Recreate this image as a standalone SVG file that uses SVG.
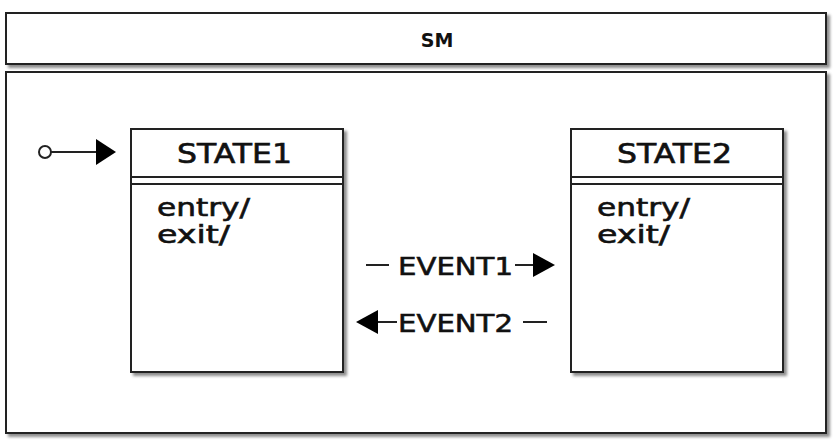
<svg xmlns="http://www.w3.org/2000/svg" width="840" height="444" viewBox="0 0 840 444">
<defs>
<filter id="sh" x="-5%" y="-5%" width="110%" height="115%">
<feDropShadow dx="3" dy="3" stdDeviation="1.8" flood-color="#000" flood-opacity="0.45"/>
</filter>
</defs>
<style>
.box{fill:#fff;stroke:#222;stroke-width:2}
.ln{stroke:#222;stroke-width:2;fill:none}
.head{fill:#000}
.t{font-family:"DejaVu Sans",sans-serif;fill:#111;stroke:#111;stroke-width:0.6}
.title{font-size:26px}
.body{font-size:24px}
.ev{font-size:25px}
</style>
<rect width="840" height="444" fill="#fff"/>
<g id="sm-header">
<rect class="box" x="6" y="13" width="820" height="51" filter="url(#sh)"/>
<text x="437" y="47" font-family="DejaVu Sans, sans-serif" font-size="19" font-weight="bold" fill="#111" text-anchor="middle">SM</text>
</g>
<g id="sm">
<rect class="box" x="6" y="72" width="820" height="361" filter="url(#sh)"/>
</g>
<g id="initial">
<circle cx="45" cy="152" r="6" fill="#fff" stroke="#222" stroke-width="2"/>
</g>
<g id="state1">
<rect class="box" x="131" y="129" width="212" height="243" filter="url(#sh)"/>
<line class="ln" x1="131" y1="177" x2="343" y2="177"/>
<line class="ln" x1="131" y1="184" x2="343" y2="184"/>
<text class="t title" x="177" y="162.5" textLength="115" lengthAdjust="spacingAndGlyphs">STATE1</text>
<text class="t body" x="157" y="216" textLength="93" lengthAdjust="spacingAndGlyphs">entry/</text>
<text class="t body" x="157" y="243" textLength="73" lengthAdjust="spacingAndGlyphs">exit/</text>
</g>
<g id="state2">
<rect class="box" x="571" y="129" width="212" height="243" filter="url(#sh)"/>
<line class="ln" x1="571" y1="177" x2="783" y2="177"/>
<line class="ln" x1="571" y1="184" x2="783" y2="184"/>
<text class="t title" x="617" y="162.5" textLength="115" lengthAdjust="spacingAndGlyphs">STATE2</text>
<text class="t body" x="597" y="216" textLength="93" lengthAdjust="spacingAndGlyphs">entry/</text>
<text class="t body" x="597" y="243" textLength="73" lengthAdjust="spacingAndGlyphs">exit/</text>
</g>
<g id="connectors">
<g id="init-to-state1">
<line class="ln" x1="51" y1="152" x2="98" y2="152"/>
<polygon class="head" points="96,139 116,152 96,165"/>
</g>
<g id="event1">
<line class="ln" x1="366" y1="265" x2="535" y2="265"/>
<polygon class="head" points="533,253 555,265 533,277"/>
<rect x="389" y="252" width="126" height="27" fill="#fff"/>
<text class="t ev" x="398" y="275" textLength="115" lengthAdjust="spacingAndGlyphs">EVENT1</text>
</g>
<g id="event2">
<line class="ln" x1="375" y1="322" x2="547" y2="322"/>
<polygon class="head" points="378,310 356,322 378,334"/>
<rect x="397" y="309" width="126" height="27" fill="#fff"/>
<text class="t ev" x="398" y="332" textLength="115" lengthAdjust="spacingAndGlyphs">EVENT2</text>
</g>
</g>
</svg>
